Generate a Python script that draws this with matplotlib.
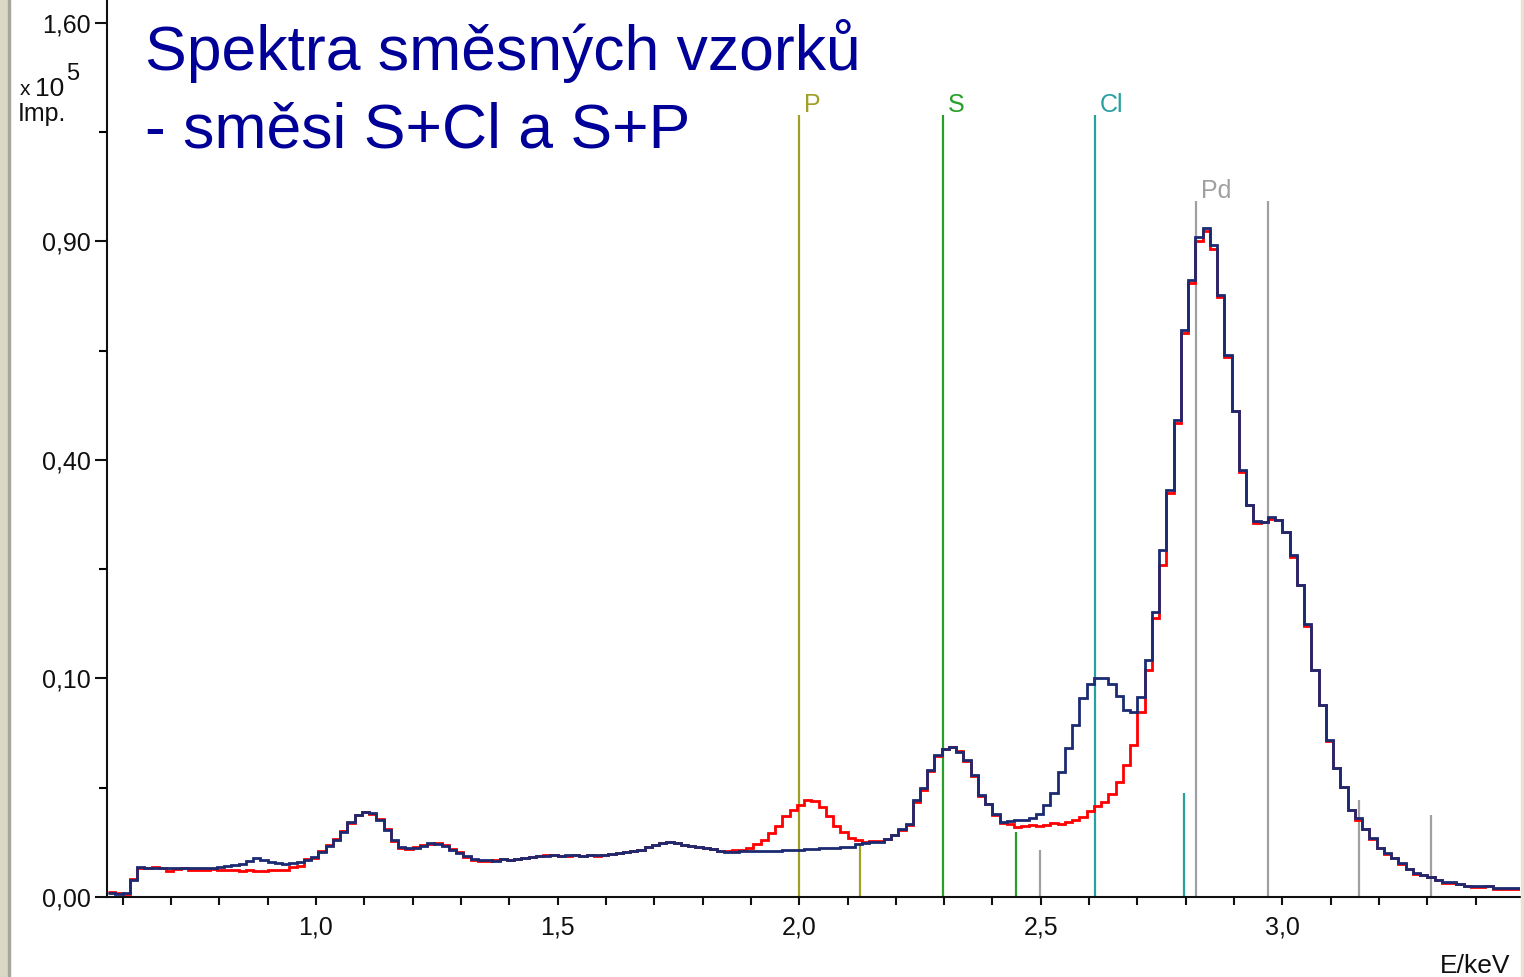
# -*- coding: utf-8 -*-
"""
EDX spektra smesnych vzorku (S+Cl a S+P), step plot on a sqrt intensity axis
"""

# %% [1] Import libraries
import numpy as np
import matplotlib.pyplot as plt
from matplotlib.ticker import MultipleLocator, FuncFormatter, FixedLocator
from matplotlib.patches import Rectangle

# %% [2] Data (counts per channel)
e_start = 0.57      # keV, first channel edge
bin_width = 0.015   # keV

# sample S+Cl (dark blue)
counts_s_cl = [
    4, 2, 3, 61, 189, 180, 176, 176, 178, 176,
    176, 172, 176, 176, 180, 189, 200, 214, 228, 272,
    319, 287, 257, 242, 228, 242, 257, 287, 335, 424,
    545, 681, 885, 1178, 1408, 1513, 1478, 1242, 940, 681,
    524, 503, 503, 545, 611, 589, 545, 463, 405, 352,
    302, 287, 287, 272, 302, 287, 302, 319, 335, 352,
    352, 369, 352, 369, 369, 352, 369, 369, 369, 387,
    405, 424, 443, 463, 524, 566, 611, 634, 611, 566,
    545, 524, 503, 483, 443, 424, 424, 443, 443, 443,
    443, 443, 443, 463, 463, 463, 483, 483, 503, 503,
    503, 524, 524, 589, 611, 634, 634, 705, 805, 969,
    1116, 1971, 2489, 3378, 4224, 4588, 4713, 4404, 3931, 3118,
    2179, 1812, 1443, 1178, 1210, 1242, 1242, 1307, 1443, 1773,
    2265, 3273, 4650, 6197, 8295, 9502, 10046, 10046, 9502, 8463,
    7324, 7169, 8378, 11765, 17013, 25221, 34697, 47656, 67340, 79738,
    91240, 93746, 89043, 75908, 61529, 49475, 38189, 32187, 29611, 29453,
    30246, 29770, 27905, 24499, 20389, 15610, 10793, 7721, 5163, 3486,
    2534, 1585, 1307, 969, 729, 503, 405, 319, 242, 164,
    120, 101, 84, 61, 47, 47, 35, 25, 25, 25,
    25, 17, 17, 17, 17,
]

# sample S+P (red)
counts_s_p = [
    5, 3, 2, 68, 176, 176, 189, 176, 140, 165,
    176, 150, 153, 158, 160, 153, 153, 153, 140, 153,
    145, 140, 153, 153, 153, 189, 200, 300, 320, 440,
    560, 700, 910, 1150, 1420, 1500, 1450, 1280, 960, 660,
    503, 490, 524, 566, 589, 600, 566, 483, 424, 335,
    287, 272, 272, 287, 302, 287, 302, 319, 335, 352,
    369, 369, 352, 352, 369, 352, 369, 352, 369, 387,
    405, 424, 443, 463, 524, 566, 611, 634, 611, 566,
    545, 524, 503, 483, 443, 443, 463, 463, 503, 589,
    681, 858, 1056, 1374, 1585, 1773, 1971, 1931, 1697, 1374,
    1056, 885, 729, 681, 634, 657, 657, 705, 805, 940,
    1086, 1900, 2400, 3300, 4150, 4588, 4713, 4450, 3850, 3080,
    2150, 1800, 1408, 1147, 1116, 1026, 1056, 1086, 1056, 1086,
    1147, 1116, 1178, 1242, 1340, 1549, 1734, 1890, 2222, 2770,
    3650, 4840, 7169, 10793, 16305, 23089, 34200, 47000, 66500, 79000,
    90000, 93000, 88000, 75300, 61000, 49475, 37800, 32187, 29300, 29453,
    30000, 29770, 27905, 24200, 20389, 15400, 10793, 7721, 5100, 3486,
    2534, 1585, 1240, 969, 700, 503, 390, 319, 232, 164,
    115, 101, 80, 61, 44, 44, 35, 25, 22, 22,
    25, 13, 13, 13, 13,
]

# characteristic lines: energy (keV), marker height (counts), colour
line_energy = [2.000, 2.126, 2.298, 2.449, 2.612, 2.796, 2.821, 2.970, 2.498, 3.159, 3.307]
line_height = [128100, 610, 128100, 885, 128100, 2265, 101460, 101460, 463, 1970, 1408]
line_color = ['#a0a028', '#a0a028', '#28a028', '#28a028', '#28a0a0', '#28a0a0',
              '#a0a0a0', '#a0a0a0', '#a0a0a0', '#a0a0a0', '#a0a0a0']

# element labels (placed at the top of their main line)
element_names = ['P', 'S', 'Cl', 'Pd']
element_energy = [2.000, 2.298, 2.612, 2.821]
element_top = [128100, 128100, 128100, 101460]
element_color = ['#a0a028', '#28a028', '#28a0a0', '#a0a0a0']

ytick_values = [0, 10000, 40000, 90000, 160000]
ytick_labels = ['0,00', '0,10', '0,40', '0,90', '1,60']
yminor_values = [2500, 22500, 62500, 122500]

# %% [3] Plot
W, H = 1524, 977
fig = plt.figure(figsize=(W / 100, H / 100), dpi=100)
ax = fig.add_axes([107 / W, 1 - 897 / H, (1520 - 107) / W, 897 / H])

edges = e_start + bin_width * np.arange(len(counts_s_cl) + 1)

# sqrt intensity scale
ax.set_yscale('function', functions=(lambda v: np.sqrt(np.clip(v, 0, None)),
                                     lambda v: np.square(v)))

for e, h, c in zip(line_energy, line_height, line_color):
    ax.vlines(e, 0, h, color=c, lw=1.6, zorder=1)

for name, e, top, c in zip(element_names, element_energy, element_top, element_color):
    ax.annotate(name, (e, top), xytext=(5, 3), textcoords='offset pixels',
                ha='left', va='baseline', color=c, fontsize=18,
                family='Liberation Sans')

ax.stairs(counts_s_p, edges, color='#ff0000', lw=2.0, baseline=None, zorder=2)
ax.stairs(counts_s_cl, edges, color='#1c2a72', lw=2.0, baseline=None, zorder=3)

ax.set_xlim(0.5675, 3.4917)
ax.set_ylim(0, 168500)

# axes styling
for side in ['top', 'right']:
    ax.spines[side].set_visible(False)
for side in ['left', 'bottom']:
    ax.spines[side].set_linewidth(1.5)
    ax.spines[side].set_color('#101010')

ax.xaxis.set_major_locator(MultipleLocator(0.5))
ax.xaxis.set_minor_locator(MultipleLocator(0.1))
ax.xaxis.set_major_formatter(FuncFormatter(lambda v, p: f'{v:.1f}'.replace('.', ',')))
ax.yaxis.set_major_locator(FixedLocator(ytick_values))
ax.yaxis.set_minor_locator(FixedLocator(yminor_values))
ax.set_yticklabels(ytick_labels)

ax.tick_params(axis='x', which='both', length=6, width=1.5, direction='out',
               labelsize=18, pad=7, colors='#101010')
ax.tick_params(axis='y', which='major', length=8.5, width=1.5, direction='out',
               labelsize=18, pad=3, colors='#101010')
ax.tick_params(axis='y', which='minor', length=5.5, width=1.5, direction='out')
for lbl in ax.get_xticklabels() + ax.get_yticklabels():
    lbl.set_family('Liberation Sans')

# unit labels
fig.text(20 / W, 1 - 95 / H, 'x', fontsize=15, family='Liberation Sans', color='#101010')
fig.text(35 / W, 1 - 96 / H, '10', fontsize=19, family='Liberation Sans', color='#101010')
fig.text(66 / W, 1 - 80 / H, '5', fontsize=17, family='Liberation Sans', color='#101010')
fig.text(18 / W, 1 - 121 / H, 'Imp.', fontsize=18, family='Liberation Sans', color='#101010')
fig.text(1440 / W, 1 - 973 / H, 'E/keV', fontsize=19, family='Liberation Sans', color='#101010')

# title
fig.text(145 / W, 1 - 70 / H, 'Spektra směsných vzorků', fontsize=45,
         family='Liberation Sans', color='#000099', va='baseline')
fig.text(145 / W, 1 - 148 / H, '- směsi S+Cl a S+P', fontsize=45,
         family='Liberation Sans', color='#000099', va='baseline')

# window border on the left
fig.patches.append(Rectangle((0, 0), 8 / W, 1, transform=fig.transFigure,
                             color='#dcd8c6', zorder=0))
fig.patches.append(Rectangle((8 / W, 0), 2 / W, 1, transform=fig.transFigure,
                             color='#a8a69c', zorder=0))
fig.patches.append(Rectangle((1521 / W, 0), 3 / W, 1, transform=fig.transFigure,
                             color='#e6e2d6', zorder=0))

plt.savefig('out.png', dpi=100)
